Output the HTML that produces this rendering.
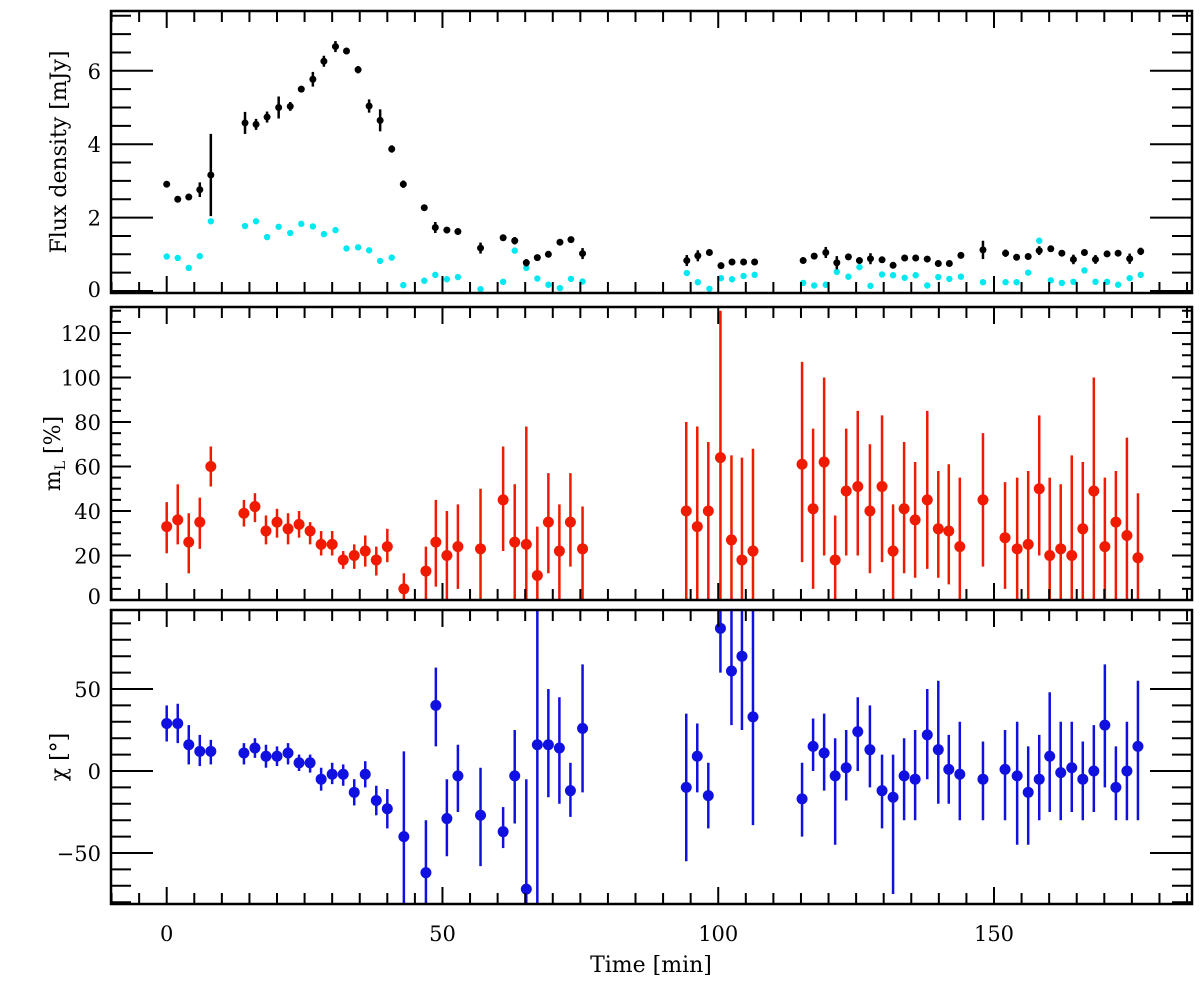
<!DOCTYPE html>
<html><head><meta charset="utf-8"><style>
body{margin:0;background:#fff;}
svg{display:block;font-family:"DejaVu Serif","Liberation Serif",serif;}
</style></head><body>
<svg id="c" width="1200" height="983"></svg>
<script>
// ---- data ----
const tFlux=[0,2,4,6,8,14.2,16.2,18.2,20.3,22.4,24.4,26.5,28.5,30.6,32.6,34.7,36.7,38.7,40.8,42.9,46.7,48.7,50.8,52.8,56.9,61,63.1,65.2,67.2,69.2,71.3,73.3,75.4,
94.3,96.3,98.4,100.5,102.5,104.6,106.6,115.4,117.4,119.5,121.5,123.6,125.6,127.6,129.7,131.7,133.8,135.8,137.9,139.9,141.9,144,148,152.1,154.1,156.2,158.2,160.3,162.3,164.4,166.4,168.4,170.5,172.5,174.6,176.6];
const flux=[2.91,2.5,2.56,2.76,3.16,4.58,4.54,4.74,5.0,5.03,5.5,5.77,6.26,6.66,6.54,6.03,5.04,4.65,3.87,2.91,2.27,1.73,1.66,1.62,1.17,1.45,1.37,0.77,0.91,1.0,1.33,1.4,1.02,
0.83,0.96,1.05,0.69,0.79,0.79,0.79,0.83,0.95,1.05,0.77,0.93,0.83,0.88,0.85,0.7,0.9,0.9,0.87,0.75,0.75,0.97,1.12,1.03,0.92,0.94,1.1,1.15,1.03,0.86,1.05,0.86,1.01,1.03,0.88,1.08];
const fluxErr=[0.05,0.05,0.05,0.2,1.12,0.3,0.15,0.15,0.3,0.12,0.08,0.2,0.15,0.15,0.08,0.1,0.18,0.3,0.1,0.1,0.05,0.15,0.07,0.07,0.15,0.08,0.1,0.1,0.08,0.08,0.08,0.08,0.15,
0.15,0.15,0.08,0.08,0.06,0.06,0.06,0.06,0.08,0.15,0.18,0.08,0.08,0.15,0.08,0.08,0.08,0.08,0.08,0.08,0.08,0.08,0.25,0.1,0.08,0.08,0.12,0.08,0.08,0.13,0.08,0.12,0.08,0.08,0.14,0.1];
const polFlux=[0.94,0.9,0.63,0.95,1.9,1.77,1.9,1.47,1.75,1.58,1.83,1.76,1.55,1.66,1.16,1.19,1.11,0.82,0.91,0.16,0.28,0.44,0.32,0.38,0.05,0.25,1.1,0.63,0.34,0.17,0.08,0.33,0.26,
0.49,0.24,0.06,0.35,0.32,0.41,0.44,0.22,0.15,0.17,0.52,0.39,0.65,0.14,0.45,0.43,0.36,0.43,0.15,0.38,0.33,0.39,0.24,0.24,0.24,0.5,1.37,0.29,0.22,0.25,0.56,0.25,0.25,0.17,0.35,0.44];
const tPol=[0,2,4,6,8,14,16,18,20,22,24,26,28,30,32,34,36,38,40,43,47,48.8,50.8,52.8,56.9,61,63.1,65.2,67.2,69.2,71.2,73.2,75.4,94.2,96.2,98.2,100.4,102.4,104.3,106.3,115.2,117.2,119.2,121.2,123.2,125.3,127.5,129.7,131.7,133.7,135.7,137.9,139.9,141.8,143.8,148,152,154.2,156.2,158.2,160.1,162.1,164.1,166.1,168.1,170.1,172.1,174.1,176.1];
const mL=[33,36,26,35,60,39,42,31,35,32,34,31,25,25,18,20,22,18,24,5,13,26,20,24,23,45,26,25,11,35,22,35,23,40,33,40,64,27,18,22,61,41,62,18,49,51,40,51,22,41,36,45,32,31,24,45,28,23,25,50,20,23,20,32,49,24,35,29,19];
const mLlo=[21,25,12,23,51,33,35,25,28,25,28,25,20,20,14,14,15,11,17,0,0,6,0,5,0,22,0,0,0,12,0,15,0,0,0,0,0,0,0,0,17,5,20,0,20,20,12,17,0,12,10,14,10,7,0,15,5,0,0,20,0,0,0,0,0,0,0,0,0];
const mLhi=[44,52,39,46,69,45,48,38,41,39,40,35,31,31,22,25,29,24,32,12,24,45,40,43,50,69,52,78,33,57,43,57,42,80,78,71,130,65,64,68,107,77,100,38,77,85,70,83,43,71,62,85,58,61,55,75,53,55,58,83,55,52,65,62,100,55,58,73,48];
const chi=[29,29,16,12,12,11,14,9,9,11,5,5,-5,-2,-2,-13,-2,-18,-23,-40,-62,40,-29,-3,-27,-37,-3,-72,16,16,14,-12,26,-10,9,-15,87,61,70,33,-17,15,11,-3,2,24,13,-12,-16,-3,-5,22,13,1,-2,-5,1,-3,-13,-5,9,-1,2,-5,0,28,-10,0,15];
const chiLo=[18,17,4,3,4,4,8,2,3,4,0,-1,-12,-8,-9,-21,-10,-27,-35,-90,-96,15,-52,-25,-58,-47,-32,-90,-90,-16,-20,-28,-13,-55,-13,-35,60,28,25,-33,-40,0,-12,-45,-18,0,-10,-35,-75,-30,-30,-5,-20,-20,-30,-30,-30,-45,-45,-30,-25,-30,-25,-30,-25,-10,-30,-30,-30];
const chiHi=[40,41,28,22,19,17,20,16,15,17,10,10,2,5,4,-5,6,-9,-11,12,-30,63,-5,16,2,-22,25,-5,110,50,45,5,65,35,29,5,110,100,110,100,5,32,35,20,25,45,40,10,10,20,25,50,55,22,30,18,25,30,15,22,48,30,30,18,28,65,15,30,55];
const xTicks=[0,50,100,150];

// ---- layout ----
const svg=document.getElementById('c');
const NS='http://www.w3.org/2000/svg';
const L=111,R=1192;
const xs=t=>L+(t+10.1)*(R-L)/196;
const panels=[
 {name:'flux-panel',top:11,bot:293,y:v=>291-v*36.7,ticks:[0,2,4,6],minorStep:0.5,lo:0,hi:7.6,maj:42,min:20,label:'Flux density [mJy]'},
 {name:'pol-degree-panel',top:307,bot:600,y:v=>600-v*2.225,ticks:[0,20,40,60,80,100,120],minorStep:5,lo:0,hi:130,maj:20,min:10,label:'m'},
 {name:'pol-angle-panel',top:610,bot:904,y:v=>771-v*1.64,ticks:[-50,0,50],minorStep:10,lo:-80,hi:100,maj:42,min:20,label:'χ [°]'}
];
function mk(tag,attrs,parent){const e=document.createElementNS(NS,tag);for(const k in attrs)e.setAttribute(k,attrs[k]);(parent||svg).appendChild(e);return e;}
panels.forEach((p,pi)=>{
 const g=mk('g',{});
 
 
 const cp=mk('clipPath',{id:'cp'+pi},svg);
 mk('rect',{x:L,y:p.top,width:R-L,height:p.bot-p.top},cp);
 p.g=mk('g',{'clip-path':'url(#cp'+pi+')'},g);
 mk('rect',{x:L,y:p.top,width:R-L,height:p.bot-p.top,fill:'none',stroke:'#000','stroke-width':2.5},g);
 for(let t=-10;t<=185;t+=5){const big=t%50===0;const len=big?17:11;const x=xs(t);
  mk('line',{x1:x,x2:x,y1:p.bot,y2:p.bot-len,stroke:'#000','stroke-width':2},g);
  mk('line',{x1:x,x2:x,y1:p.top,y2:p.top+len,stroke:'#000','stroke-width':2},g);}
 for(let v=p.lo;v<=p.hi+1e-9;v+=p.minorStep){const y=p.y(v);if(y<p.top+1||y>p.bot-1)continue;
  const isMaj=p.ticks.some(t=>Math.abs(t-v)<1e-6);const len=isMaj?p.maj:p.min;
  mk('line',{x1:L,x2:L+len,y1:y,y2:y,stroke:'#000','stroke-width':2},g);
  mk('line',{x1:R,x2:R-len,y1:y,y2:y,stroke:'#000','stroke-width':2},g);}
 p.ticks.forEach(v=>{const y=Math.min(p.y(v),p.bot-4);
  const tx=mk('text',{x:101,y:y+8,'text-anchor':'end','font-size':21},g);tx.textContent=String(v).replace('-','−');
  
  });
 const cy=(p.top+p.bot)/2;
 const lab=mk('text',{x:0,y:0,'text-anchor':'middle','font-size':22,transform:`translate(${pi===1?60:66},${cy}) rotate(-90)`},g);
 
 
 if(pi===1){lab.innerHTML='m<tspan font-size="14" dy="5">L</tspan><tspan dy="-5"> [%]</tspan>';}else lab.textContent=p.label;
});
xTicks.forEach(v=>{const t=mk('text',{x:xs(v),y:941,'text-anchor':'middle','font-size':21});t.textContent=v;
 
 });
const xt=mk('text',{x:651,y:972,'text-anchor':'middle','font-size':22});xt.textContent='Time [min]';



function point(p,t,v,lo,hi,col,r,w){
 const x=xs(t);
 if(lo!==null){const l=mk('line',{x1:x,x2:x,y1:p.y(lo),y2:p.y(hi),stroke:col,'stroke-width':w},p.g);
  
  }
 const c=mk('circle',{cx:x,cy:p.y(v),r:r,fill:col},p.g);
 
 
}
tFlux.forEach((t,i)=>{point(panels[0],t,polFlux[i],null,null,'#00e8f0',3.2,0);});
tFlux.forEach((t,i)=>{point(panels[0],t,flux[i],flux[i]-fluxErr[i],flux[i]+fluxErr[i],'#000',3.5,2.5);});
tPol.forEach((t,i)=>point(panels[1],t,mL[i],mLlo[i],mLhi[i],'#f01a00',5.5,2.5));
tPol.forEach((t,i)=>point(panels[2],t,chi[i],chiLo[i],chiHi[i],'#1010e0',5.5,2.5));
</script>
</body></html>
